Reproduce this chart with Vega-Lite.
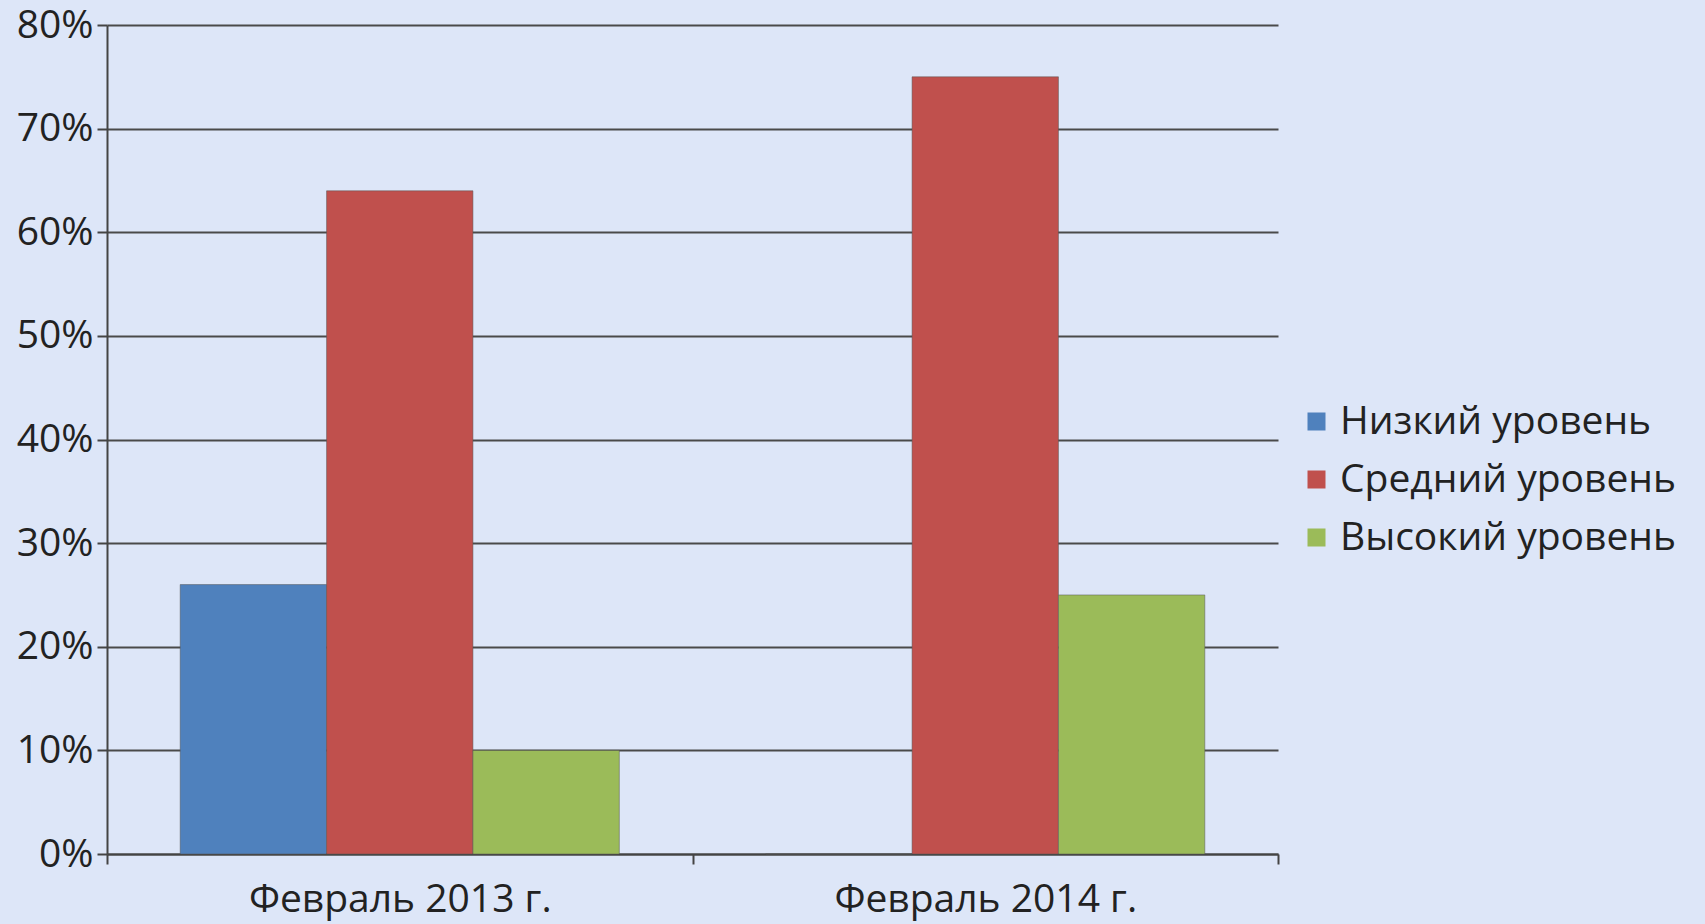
{
  "$schema": "https://vega.github.io/schema/vega-lite/v6.json",
  "width": 1171,
  "height": 829,
  "autosize": {"type": "none"},
  "padding": {"left": 107, "top": 25, "right": 427, "bottom": 70},
  "background": "#dde6f8",
  "config": {"view": {"stroke": null}, "font": "Open Sans"},
  "data": {
    "values": [
      {"period": "Февраль 2013 г.", "level": "Низкий уровень", "value": 0.26},
      {"period": "Февраль 2013 г.", "level": "Средний уровень", "value": 0.64},
      {"period": "Февраль 2013 г.", "level": "Высокий уровень", "value": 0.10},
      {"period": "Февраль 2014 г.", "level": "Низкий уровень", "value": 0},
      {"period": "Февраль 2014 г.", "level": "Средний уровень", "value": 0.75},
      {"period": "Февраль 2014 г.", "level": "Высокий уровень", "value": 0.25}
    ]
  },
  "mark": {"type": "bar", "stroke": "#555555", "strokeOpacity": 0.5, "strokeWidth": 1},
  "encoding": {
    "x": {
      "field": "period", "type": "nominal", "sort": null,
      "scale": {"paddingInner": 0, "paddingOuter": 0},
      "axis": {
        "title": null, "labelAngle": 0, "labelFontSize": 39, "labelColor": "#222222",
        "labelBaseline": "top", "labelPadding": 16, "labelLimit": 1000,
        "tickBand": "extent", "tickSize": 10, "tickColor": "#444444", "tickWidth": 2,
        "domainColor": "#444444", "domainWidth": 2, "grid": false
      }
    },
    "xOffset": {
      "field": "level", "type": "nominal",
      "sort": ["Низкий уровень", "Средний уровень", "Высокий уровень"],
      "scale": {"paddingInner": 0, "paddingOuter": 0.5}
    },
    "y": {
      "field": "value", "type": "quantitative",
      "scale": {"domain": [0, 0.8], "nice": false},
      "axis": {
        "title": null, "format": ".0%", "values": [0, 0.1, 0.2, 0.3, 0.4, 0.5, 0.6, 0.7, 0.8],
        "labelFontSize": 39, "labelColor": "#222222", "labelPadding": 4,
        "tickSize": 10, "tickColor": "#444444", "tickWidth": 2,
        "domainColor": "#444444", "domainWidth": 2,
        "gridColor": "#4a4a4a", "gridWidth": 2
      }
    },
    "color": {
      "field": "level", "type": "nominal",
      "scale": {
        "domain": ["Низкий уровень", "Средний уровень", "Высокий уровень"],
        "range": ["#4F81BD", "#C0504D", "#9BBB59"]
      },
      "legend": {
        "title": null, "orient": "none", "legendX": 1190, "legendY": 377,
        "symbolType": "square", "symbolSize": 324, "symbolStrokeWidth": 0,
        "labelFontSize": 39, "labelColor": "#222222", "labelOffset": 4,
        "rowPadding": 18, "labelLimit": 600
      }
    }
  }
}
